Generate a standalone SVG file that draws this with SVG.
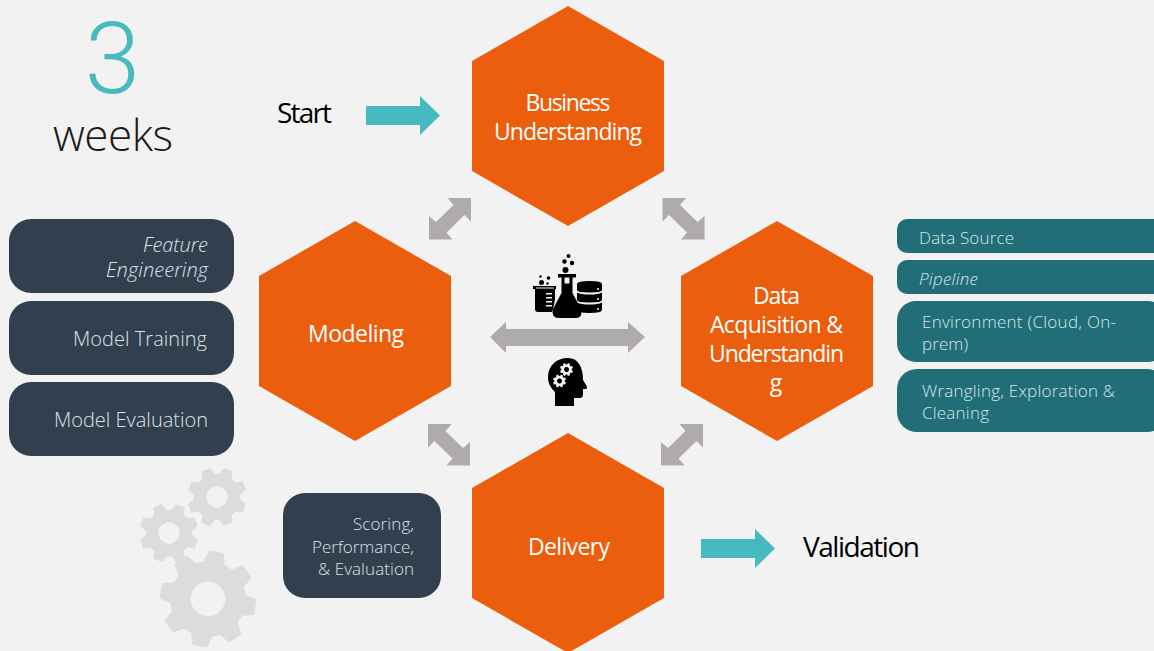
<svg xmlns="http://www.w3.org/2000/svg" width="1154" height="651" viewBox="0 0 1154 651">
<style>
text{font-family:"Open Sans","Liberation Sans",sans-serif;font-weight:300}
.hex{fill:#EB5E0E}
.ht{fill:#fff;font-size:23px;font-weight:400;text-anchor:middle}
.dark{fill:#323F4F}
.teal{fill:#216E78}
.dt{fill:#DDE2E6;font-size:20px;text-anchor:end}
.st{fill:#DDE2E6;font-size:17px;text-anchor:end}
.tt{fill:#D6E8EA;font-size:17px}
.it{font-style:italic}
.arr{fill:#AFABAA}
.go{fill:#47BAC1}
.gear{fill:#DCDCDC;fill-rule:evenodd}
.ico{fill:#000}
.cut{fill:#F2F2F2}
</style>
<defs>
<polygon id="diag" points="21,-21 21,2.5 14.5,-4 -3.5,13.5 2.5,20.5 -21,20.5 -21,-3 -14,3 3.5,-14 -2.5,-21"/>
<path id="gearshape" d="M.76-.22L1-.16V.16L.76.22L.693.382L.82.594L.594.82L.382.693L.22.76L.16 1H-.16L-.22.76L-.382.693L-.594.82L-.82.594L-.693.382L-.76.22L-1 .16V-.16L-.76-.22L-.693-.382L-.82-.594L-.594-.82L-.382-.693L-.22-.76L-.16-1H.16L.22-.76L.382-.693L.594-.82L.82-.594L.693-.382ZM.36 0A.36.36 0 1 0-.36 0A.36.36 0 1 0 .36 0Z"/>
</defs>
<rect width="1154" height="651" fill="#F2F2F2"/>

<g id="connectors">
<use href="#diag" class="arr" transform="translate(450,219)"/>
<use href="#diag" class="arr" transform="translate(683.500,219) scale(-1,1)"/>
<use href="#diag" class="arr" transform="translate(449,445) scale(-1,1)"/>
<use href="#diag" class="arr" transform="translate(682,445)"/>
<polygon class="arr" points="490,337 506,322 506,329 628,329 628,322 645,337 628,353 628,346 506,346 506,353"/>
<polygon class="go" points="366,106 420,106 420,96 440,115.500 420,135 420,125 366,125"/>
<polygon class="go" points="701,539 755,539 755,529 775,548.500 755,568 755,558 701,558"/>
</g>

<g id="duration">
<text x="112.500" y="93" font-size="100" fill="#47BAC1" text-anchor="middle" style="font-family:Roboto,'Liberation Sans',sans-serif">3</text>
<text x="53" y="151" font-size="44" fill="#1a1a1a" textLength="120">weeks</text>
</g>
<g id="start"><text x="277" y="123" font-size="28" fill="#000" style="font-weight:400" textLength="55">Start</text></g>
<g id="validation"><text x="803" y="557" font-size="28" fill="#000" style="font-weight:400" textLength="117">Validation</text></g>

<g id="business">
<polygon class="hex" points="568,6 664,61 664,171 568,226 472,171 472,61"/>
<text class="ht" x="568" y="111" textLength="85">Business</text>
<text class="ht" x="568" y="140" textLength="148">Understanding</text>
</g>
<g id="modeling">
<polygon class="hex" points="355,221 451,276 451,386 355,441 259,386 259,276"/>
<text class="ht" x="356" y="342" textLength="96">Modeling</text>
</g>
<g id="data">
<polygon class="hex" points="777,221 873,276 873,386 777,441 681,386 681,276"/>
<text class="ht" x="776.500" y="304" textLength="47">Data</text>
<text class="ht" x="776.500" y="333" textLength="133">Acquisition &amp;</text>
<text class="ht" x="776.500" y="362" textLength="135">Understandin</text>
<text class="ht" x="776" y="391">g</text>
</g>
<g id="delivery">
<polygon class="hex" points="568,433 664,488 664,598 568,653 472,598 472,488"/>
<text class="ht" x="569" y="555" textLength="82">Delivery</text>
</g>

<g id="feature-engineering">
<rect class="dark" x="9" y="219" width="225" height="74" rx="22"/>
<text class="dt it" x="208" y="252" textLength="65">Feature</text>
<text class="dt it" x="208" y="277" textLength="102">Engineering</text>
</g>
<g id="model-training">
<rect class="dark" x="9" y="301" width="225" height="74" rx="22"/>
<text class="dt" x="207" y="346" textLength="134">Model Training</text>
</g>
<g id="model-evaluation">
<rect class="dark" x="9" y="382" width="225" height="74" rx="22"/>
<text class="dt" x="208" y="427" textLength="154">Model Evaluation</text>
</g>
<g id="scoring">
<rect class="dark" x="283" y="493" width="158" height="105" rx="22"/>
<text class="st" x="414" y="530" textLength="61">Scoring,</text>
<text class="st" x="414" y="553" textLength="102">Performance,</text>
<text class="st" x="414" y="575" textLength="96">&amp; Evaluation</text>
</g>

<g id="data-source">
<rect class="teal" x="897" y="219" width="270" height="34" rx="10"/>
<text class="tt" x="919" y="244" textLength="95">Data Source</text>
</g>
<g id="pipeline">
<rect class="teal" x="897" y="260" width="270" height="34" rx="10"/>
<text class="tt it" x="919" y="285" textLength="59">Pipeline</text>
</g>
<g id="environment">
<rect class="teal" x="897" y="301" width="270" height="61" rx="19"/>
<text class="tt" x="922" y="328" textLength="194">Environment (Cloud, On-</text>
<text class="tt" x="922" y="350" textLength="46">prem)</text>
</g>
<g id="wrangling">
<rect class="teal" x="897" y="369" width="270" height="63" rx="20"/>
<text class="tt" x="922" y="397" textLength="193">Wrangling, Exploration &amp;</text>
<text class="tt" x="922" y="419" textLength="67">Cleaning</text>
</g>

<g id="gears">
<use href="#gearshape" class="gear" transform="translate(217,497) scale(29.500) rotate(22.500)"/>
<use href="#gearshape" class="gear" transform="translate(169,533) scale(29.500) rotate(22.500)"/>
<use href="#gearshape" class="gear" transform="translate(208,599) scale(48) rotate(10)"/>
</g>

<g id="science-icon">
<path class="ico" d="M533,286H557V289H555V309Q555,312 552,312H538Q535,312 535,309V289H533Z"/>
<g class="cut"><rect x="546" y="293" width="6" height="1.500"/><rect x="546" y="297" width="6" height="1.500"/><rect x="546" y="301" width="6" height="1.500"/><rect x="546" y="305" width="6" height="1.500"/><rect x="536" y="287.500" width="18" height="1"/></g>
<path class="cut" d="M551,317L556,296V276H578V296L584,317Z"/>
<path class="ico" d="M558,274H576V277.500H572.500V293L581,309Q583,318 576,318H559Q551,318 553,309L561.500,293V277.500H558Z"/>
<rect class="cut" x="564.500" y="277.500" width="5" height="6"/>
<circle class="ico" cx="565.500" cy="270" r="3"/><circle class="ico" cx="564.500" cy="261.500" r="2.200"/><circle class="ico" cx="572" cy="263" r="2.200"/><circle class="ico" cx="568.500" cy="256" r="2"/>
<circle class="ico" cx="541.500" cy="282.500" r="2.500"/><circle class="ico" cx="548.500" cy="278" r="1.800"/><circle class="ico" cx="547.500" cy="283.500" r="1.300"/><circle class="ico" cx="540.500" cy="276.500" r="1.200"/>
<path class="ico" d="M577,284Q577,281 589.500,281Q602,281 602,284V290Q602,292.500 589.500,292.500Q577,292.500 577,290Z"/>
<path class="ico" d="M577,292.500Q581,294.500 589.500,294.500Q598,294.500 602,292.500V300Q602,302.500 589.500,302.500Q577,302.500 577,300Z"/>
<path class="ico" d="M577,302.500Q581,304.500 589.500,304.500Q598,304.500 602,302.500V310Q602,313 589.500,313Q577,313 577,310Z"/>
<g class="cut"><circle cx="598" cy="289" r="1"/><circle cx="598" cy="299" r="1"/><circle cx="598" cy="309" r="1"/></g>
</g>

<g id="head-icon">
<path class="ico" d="M568,358C556,358 548,366 548,377C548,384 551,388 555,392V406H574V398H580Q583,398 583,394V389H586Q588,388 586,385L583,380C583,367 578,358 568,358Z"/>
<use href="#gearshape" fill="#F2F2F2" transform="translate(566.500,369.500) scale(6.500) rotate(22.500)"/>
<use href="#gearshape" fill="#F2F2F2" transform="translate(559.500,381) scale(6.500) rotate(22.500)"/>
<circle class="ico" cx="566.500" cy="369.500" r="2.200"/>
<circle class="ico" cx="559.500" cy="381" r="2.200"/>
</g>
</svg>
